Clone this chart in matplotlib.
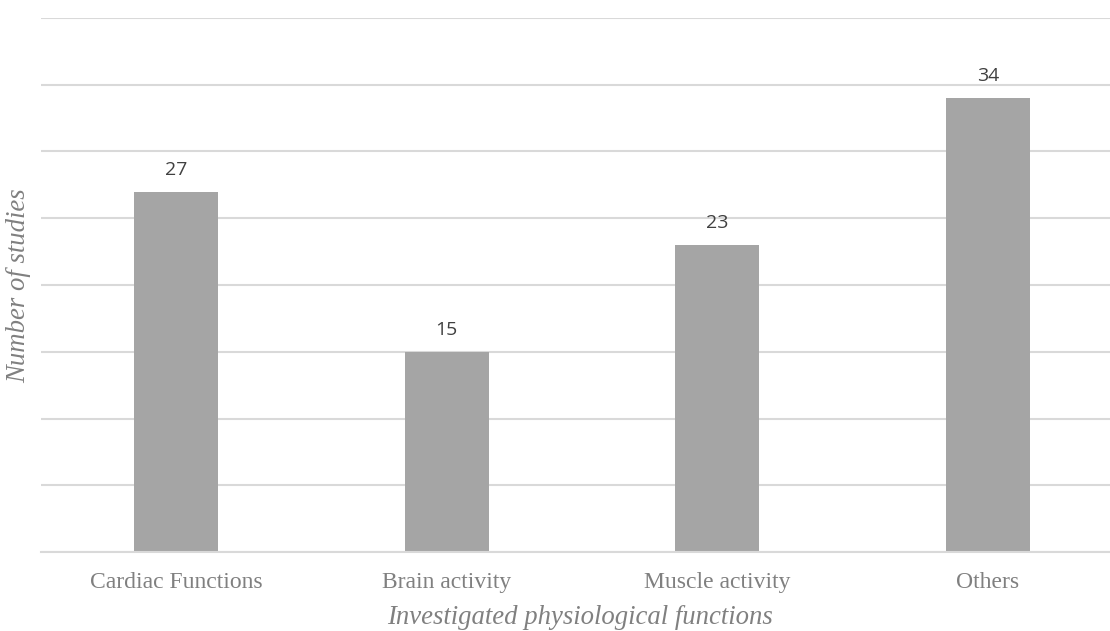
import matplotlib
matplotlib.use("Agg")
import matplotlib.pyplot as plt

categories = ["Cardiac Functions", "Brain activity", "Muscle activity", "Others"]
studies = [27, 15, 23, 34]
y_ticks = [0, 5, 10, 15, 20, 25, 30, 35, 40]

W, H = 1110, 631
fig = plt.figure(figsize=(W / 100, H / 100), dpi=100)
left, right, bottom, top = 41, 1110, 552, 18
ax = fig.add_axes([left / W, 1 - bottom / H, (right - left) / W, (bottom - top) / H])

x = list(range(len(categories)))
ax.bar(x, studies, width=0.31, color="#a5a5a5", zorder=3)
for xi, v in zip(x, studies):
    ax.text(xi, v + 0.95, str(v), ha="center", va="bottom", fontsize=14,
            color="#404040", family="Open Sans")

slot = 270.5
ax.set_xlim(-0.5, -0.5 + (right - left) / slot)
ax.set_ylim(0, 40)
ax.set_yticks(y_ticks)
ax.yaxis.grid(True, color="#d9d9d9", linewidth=1.5, zorder=0)
ax.tick_params(axis="y", left=False, labelleft=False)
ax.tick_params(axis="x", bottom=False, pad=11)
ax.set_xticks(x)
ax.set_xticklabels(categories, family="Liberation Serif", fontsize=17, color="#808080")
for s in ["top", "right", "left"]:
    ax.spines[s].set_visible(False)
ax.spines["bottom"].set_color("#d9d9d9")
ax.spines["bottom"].set_linewidth(1.5)
ax.spines["bottom"].set_zorder(4)

fig.text(580 / W, 1 - 618 / H, "Investigated physiological functions", ha="center", va="center",
         family="Liberation Serif", style="italic", fontsize=19.3, color="#808080")
fig.text(19 / W, 1 - 286 / H, "Number of studies", ha="center", va="center", rotation=90,
         family="Liberation Serif", style="italic", fontsize=19.3, color="#808080")

fig.savefig("out.png", dpi=100)
